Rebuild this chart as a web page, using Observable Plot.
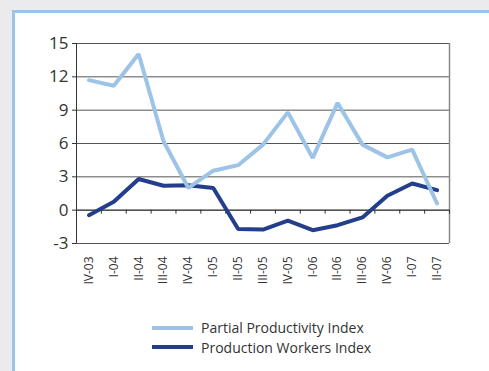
<!DOCTYPE html>
<html>
<head>
<meta charset="utf-8">
<script src="https://cdn.jsdelivr.net/npm/d3@7"></script>
<script src="https://cdn.jsdelivr.net/npm/@observablehq/plot@0.6"></script>
<style>
  html, body { margin: 0; padding: 0; }
  body { width: 489px; height: 371px; background: #ebebed; position: relative; overflow: hidden; font-family: "Open Sans", Lato, sans-serif; }
  #panel { position: absolute; left: 12px; top: 10px; width: 520px; height: 400px; background: #fff; border: 3px solid #9dc3e6; }
  #chart { position: absolute; left: 0; top: 0; }
  #legend { position: absolute; left: 152px; top: 318px; font-size: 14px; color: #333; }
  .item { display: flex; align-items: center; height: 19.5px; }
  .sw { width: 41px; height: 4px; margin-right: 8px; }
</style>
</head>
<body>
<div id="panel"></div>
<div id="chart"></div>
<div id="legend"></div>
<script>
const categories = ["IV-03","I-04","II-04","III-04","IV-04","I-05","II-05","III-05","IV-05","I-06","II-06","III-06","IV-06","I-07","II-07"];
const partialProductivity = [11.7, 11.2, 14.05, 6.2, 2.0, 3.55, 4.05, 5.9, 8.8, 4.7, 9.65, 5.9, 4.75, 5.45, 0.6];
const productionWorkers = [-0.45, 0.75, 2.8, 2.2, 2.25, 2.0, -1.7, -1.75, -0.95, -1.8, -1.35, -0.65, 1.3, 2.4, 1.8];
const yTicks = [-3, 0, 3, 6, 9, 12, 15];
const seriesNames = ["Partial Productivity Index", "Production Workers Index"];
const seriesColors = ["#9dc3e6", "#233e8b"];

const idx = categories.map((c, i) => i + 0.5);
const boundaries = d3.range(1, categories.length + 1);
const dark = productionWorkers.map((v, i) => ({x: i + 0.5, y: v}));
const light = partialProductivity.map((v, i) => ({x: i + 0.5, y: v}));

const chart = Plot.plot({
  width: 489,
  height: 300,
  marginLeft: 76,
  marginRight: 40,
  marginTop: 43,
  marginBottom: 57,
  style: {background: "transparent", fontFamily: "'Open Sans', Lato, sans-serif", color: "#333"},
  x: {type: "linear", domain: [0, categories.length]},
  y: {domain: [-3, 15]},
  marks: [
    Plot.gridY(yTicks, {stroke: "#555", strokeOpacity: 1}),
    Plot.ruleX([categories.length], {stroke: "#888", strokeWidth: 1.5}),
    Plot.ruleX([0], {stroke: "#333"}),
    Plot.ruleY([0], {stroke: "#333"}),
    Plot.ruleX(boundaries, {x: d => d, y1: 0, y2: 0, insetBottom: -4, stroke: "#333"}),
    Plot.axisY(yTicks, {tickSize: 4, tickPadding: 4, fontSize: 17, tickFormat: d => d, stroke: "#333", fill: "#333", label: null}),
    Plot.axisX(idx, {tickSize: 0, tickPadding: 13, tickRotate: -90, fontSize: 12, tickFormat: d => categories[Math.floor(d)], fill: "#333", label: null}),
    Plot.line(dark, {x: "x", y: "y", stroke: seriesColors[1], strokeWidth: 4, strokeLinejoin: "miter"}),
    Plot.line(light, {x: "x", y: "y", stroke: seriesColors[0], strokeWidth: 4, strokeLinejoin: "miter"})
  ]
});
document.getElementById("chart").appendChild(chart);

const legend = document.getElementById("legend");
seriesNames.forEach((n, i) => {
  const it = document.createElement("div");
  it.className = "item";
  it.innerHTML = `<div class="sw" style="background:${seriesColors[i]}"></div><span>${n}</span>`;
  legend.appendChild(it);
});
</script>
</body>
</html>
